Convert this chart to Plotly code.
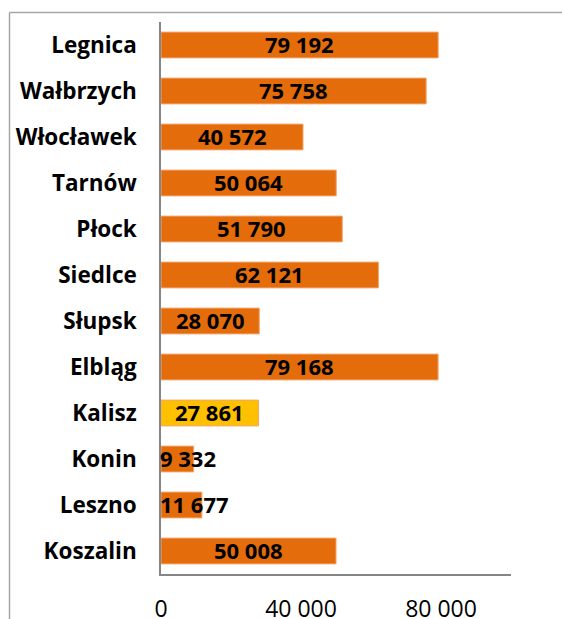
import plotly.graph_objects as go

cities = ["Legnica", "Wałbrzych", "Włocławek", "Tarnów", "Płock", "Siedlce",
          "Słupsk", "Elbląg", "Kalisz", "Konin", "Leszno", "Koszalin"]
values = [79192, 75758, 40572, 50064, 51790, 62121, 28070, 79168, 27861, 9332, 11677, 50008]
labels = ["79 192", "75 758", "40 572", "50 064", "51 790", "62 121",
          "28 070", "79 168", "27 861", "9 332", "11 677", "50 008"]
highlight = "Kalisz"
tick_vals = [0, 40000, 80000]
tick_text = ["0", "40 000", "80 000"]

ORANGE = "#E46C0A"
YELLOW = "#FFC000"
colors = [YELLOW if c == highlight else ORANGE for c in cities]

W, H = 562, 619
L, R, T, B = 161, 51, 22, 45
FONT = "Open Sans, Lato, sans-serif"

fig = go.Figure(go.Bar(
    x=values, y=cities, orientation="h",
    marker=dict(color=colors, line=dict(color="#F2A46E", width=1)),
    width=0.56, hoverinfo="skip",
))

# value labels: centered when they fit, otherwise starting at the bar base
px_per_unit = (W - L - R) / 100000
for c, v, t in zip(cities, values, labels):
    fits = v * px_per_unit > 80
    fig.add_annotation(
        x=v / 2 if fits else 0, y=c, text=f"<b>{t}</b>", showarrow=False,
        xanchor="center" if fits else "left", yanchor="middle", xshift=0 if fits else -3,
        yshift=1,
        font=dict(family=FONT, size=22, color="black"),
    )

pw = W - L - R
ph = H - T - B
def px_to_paper_x(px):
    return (px - L) / pw
def px_to_paper_y(py):
    return 1 - (py - T) / ph

# outer frame (partially cropped chart border)
fig.add_shape(type="line", xref="paper", yref="paper",
              x0=px_to_paper_x(9.5), x1=px_to_paper_x(9.5),
              y0=px_to_paper_y(12.5), y1=px_to_paper_y(625),
              line=dict(color="#A6A6A6", width=1.5))
fig.add_shape(type="line", xref="paper", yref="paper",
              x0=px_to_paper_x(9.5), x1=px_to_paper_x(570),
              y0=px_to_paper_y(12.5), y1=px_to_paper_y(12.5),
              line=dict(color="#A6A6A6", width=1.5))

fig.update_layout(
    width=W, height=H,
    margin=dict(l=L, r=R, t=T, b=B, autoexpand=False),
    paper_bgcolor="white", plot_bgcolor="white",
    showlegend=False,
    font=dict(family=FONT, color="black"),
    xaxis=dict(range=[0, 100000], tickvals=tick_vals, ticktext=tick_text,
               automargin=False,
               showgrid=False, zeroline=False, showline=True,
               linecolor="#868686", linewidth=1.5,
               ticks="outside", ticklen=0, ticklabelstandoff=14,
               tickfont=dict(size=23, family=FONT)),
    yaxis=dict(autorange="reversed", automargin=False,
               showgrid=False, zeroline=False,
               showline=True, linecolor="#868686", linewidth=1.5,
               ticks="outside", ticklen=0, ticklabelstandoff=18,
               tickfont=dict(size=22.5, family=FONT, weight="bold")),
)

fig.write_html("out.html", config={"displayModeBar": False},
               post_script="document.body.style.margin='0';document.body.style.overflow='hidden';")
